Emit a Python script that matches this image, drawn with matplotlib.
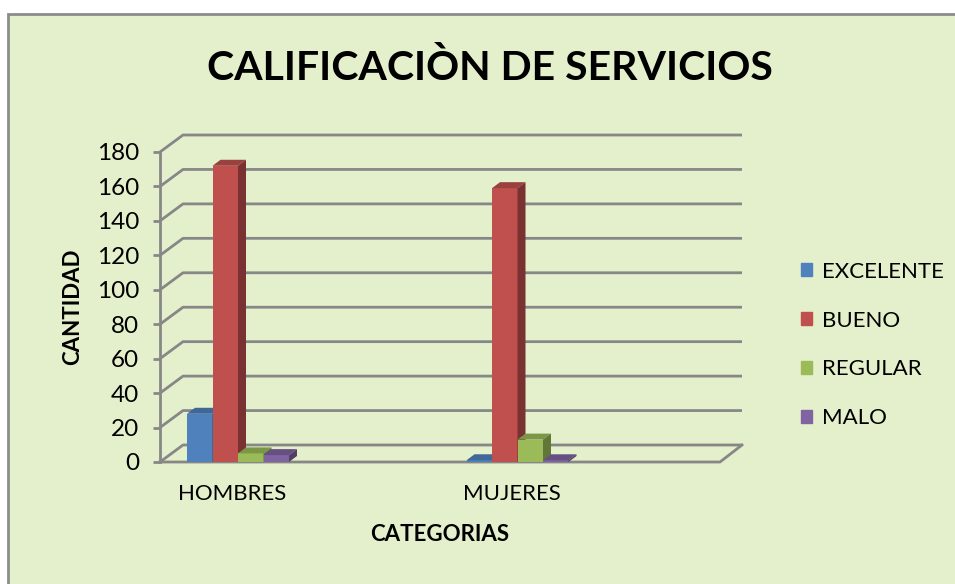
import numpy as np
import matplotlib.pyplot as plt
import matplotlib.transforms as mtransforms
from matplotlib.patches import Polygon, Rectangle, Patch
from matplotlib.colors import to_rgb

# datos
categorias = ['HOMBRES', 'MUJERES']
series = ['EXCELENTE', 'BUENO', 'REGULAR', 'MALO']
excelente = [28, 1]
bueno = [172, 159]
regular = [5, 13]
malo = [4, 1]
valores = [excelente, bueno, regular, malo]
colores = ['#4F81BD', '#C0504D', '#9BBB59', '#8064A2']
yticks = np.arange(0, 181, 20)


def oscurecer(c, f):
    return tuple(np.array(to_rgb(c)) * f)


plt.rcParams['font.family'] = ['Lato', 'DejaVu Sans']
fig = plt.figure(figsize=(9.55, 5.84), dpi=100)
fig.patch.set_facecolor('white')
fig.add_artist(Rectangle((8 / 955, -0.01), 1.0, 1.01 - 14 / 584, transform=fig.transFigure,
                         facecolor='#E4F0CC', edgecolor='#8C8C8C', lw=2, zorder=-10))

ax = fig.add_axes([160 / 955, 122 / 584, 560 / 955, 310 / 584])
ax.patch.set_alpha(0)

# escala en pixeles
px_x = 279.5
px_y = 310 / 180
x0 = -78 / px_x
x1 = x0 + 560 / px_x
ax.set_xlim(x0, x1)
ax.set_ylim(0, 180)

# profundidad (pared y barras)
wdx, wdy = 23 / px_x, 17 / px_y
bdx, bdy = 8 / px_x, 6 / px_y
fondo_der = x0 + 582 / px_x
gris = '#878787'

for v in yticks:
    ax.plot([x0, x0 + wdx, fondo_der], [v, v + wdy, v + wdy], color=gris, lw=2,
            clip_on=False, zorder=1, solid_capstyle='butt')
ax.plot([x0, x1, fondo_der], [0, 0, wdy], color=gris, lw=2, clip_on=False, zorder=1)

# barras 3D
w = 25.5 / px_x
x = np.arange(len(categorias))
for i, (serie, vals, c) in enumerate(zip(series, valores, colores)):
    pos = x + (i - 1.5) * w
    z = 3 + 2 * i
    ax.bar(pos, vals, w, color=c, linewidth=0, zorder=z)
    for xp, v in zip(pos, vals):
        l, r = xp - w / 2, xp + w / 2
        ax.add_patch(Polygon([[l, v], [r, v], [r + bdx, v + bdy], [l + bdx, v + bdy]],
                             closed=True, fc=oscurecer(c, 0.8), ec='none', zorder=z))
        ax.add_patch(Polygon([[r, 0], [r + bdx, bdy], [r + bdx, v + bdy], [r, v]],
                             closed=True, fc=oscurecer(c, 0.63), ec='none', zorder=z))

# ejes
for s in ['top', 'right', 'bottom']:
    ax.spines[s].set_visible(False)
ax.spines['left'].set_color(gris)
ax.spines['left'].set_linewidth(2)
ax.set_yticks(yticks)
ax.tick_params(axis='y', colors=gris, length=5, width=2, pad=10, labelsize=17.5, labelcolor='black')
ax.set_xticks(x, categorias)
ax.tick_params(axis='x', length=0, pad=16, labelsize=16)
desplazar = mtransforms.ScaledTranslation(-6 / 100, 0, fig.dpi_scale_trans)
for lbl in ax.get_xticklabels():
    lbl.set_transform(lbl.get_transform() + desplazar)
ax.set_xlabel('CATEGORIAS', fontsize=16, fontweight='bold', labelpad=14)
ax.set_ylabel('CANTIDAD', fontsize=16, fontweight='bold', labelpad=10)

fig.text(490 / 955, 1 - 68 / 584, 'CALIFICACIÒN DE SERVICIOS', ha='center', va='center',
         fontsize=29.5, fontweight='bold')

handles = [Patch(color=c, label=s) for s, c in zip(series, colores)]
fig.legend(handles=handles, loc='center left', bbox_to_anchor=(790 / 955, 1 - 345 / 584),
           frameon=False, fontsize=16, handlelength=0.5, handleheight=0.5,
           handletextpad=0.45, labelspacing=1.3, borderpad=0)

fig.savefig('out.png', dpi=100)
